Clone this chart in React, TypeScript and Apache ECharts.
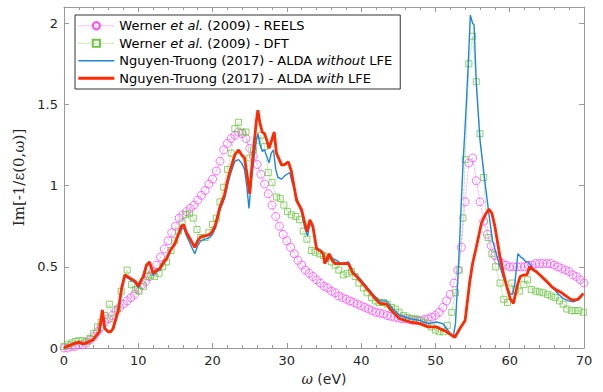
import React, { useEffect, useRef } from "react";
import * as echarts from "echarts";

// Werner et al. (2009) - REELS : [energy (eV), Im(-1/eps)]
const reels: number[][] = [
  [0, 0.0], [0.5, 0.0], [1, 0.01], [1.5, 0.01], [2, 0.02], [2.5, 0.02], [3, 0.03], [3.5, 0.05], [4, 0.07], [4.5, 0.1],
  [5, 0.13], [5.5, 0.16], [6, 0.18], [6.5, 0.2], [7, 0.23], [7.5, 0.25], [8, 0.27], [8.5, 0.29], [9, 0.31], [9.5, 0.33],
  [10, 0.36], [10.5, 0.39], [11, 0.41], [11.5, 0.44], [12, 0.47], [12.5, 0.51], [13, 0.56], [13.5, 0.61], [14, 0.66], [14.5, 0.71],
  [15, 0.75], [15.5, 0.8], [16, 0.82], [16.5, 0.84], [17, 0.86], [17.5, 0.88], [18, 0.91], [18.5, 0.94], [19, 0.97], [19.5, 1.01],
  [20, 1.04], [20.5, 1.09], [21, 1.15], [21.5, 1.22], [22, 1.26], [22.5, 1.29], [23, 1.31], [23.5, 1.33], [24, 1.32], [24.5, 1.29],
  [25, 1.23], [25.5, 1.18], [26, 1.13], [26.5, 1.07], [27, 1.01], [27.5, 0.95], [28, 0.88], [28.5, 0.81], [29, 0.75], [29.5, 0.7],
  [30, 0.66], [30.5, 0.62], [31, 0.58], [31.5, 0.54], [32, 0.51], [32.5, 0.48], [33, 0.46], [33.5, 0.44], [34, 0.42], [34.5, 0.4],
  [35, 0.38], [35.5, 0.37], [36, 0.35], [36.5, 0.34], [37, 0.32], [37.5, 0.31], [38, 0.3], [38.5, 0.29], [39, 0.28], [39.5, 0.27],
  [40, 0.26], [40.5, 0.25], [41, 0.24], [41.5, 0.23], [42, 0.22], [42.5, 0.215], [43, 0.21], [43.5, 0.2], [44, 0.195], [44.5, 0.19],
  [45, 0.185], [45.5, 0.18], [46, 0.18], [46.5, 0.175], [47, 0.17], [47.5, 0.17], [48, 0.17], [48.5, 0.175], [49, 0.18], [49.5, 0.19],
  [50, 0.2], [50.5, 0.22], [51, 0.25], [51.5, 0.29], [52, 0.33], [52.5, 0.4], [53, 0.48], [53.5, 0.62], [54, 0.9], [54.5, 1.14],
  [55, 1.17], [55.5, 1.03], [56, 0.9], [56.5, 0.78], [57, 0.7], [57.5, 0.63], [58, 0.57], [58.5, 0.54], [59, 0.52], [59.5, 0.51],
  [60, 0.5], [60.5, 0.5], [61, 0.5], [61.5, 0.5], [62, 0.5], [62.5, 0.51], [63, 0.51], [63.5, 0.52], [64, 0.52], [64.5, 0.52],
  [65, 0.52], [65.5, 0.52], [66, 0.51], [66.5, 0.5], [67, 0.49], [67.5, 0.48], [68, 0.47], [68.5, 0.45], [69, 0.44], [69.5, 0.42],
  [70, 0.4],
];

// Werner et al. (2009) - DFT
const dft: number[][] = [
  [0, 0.01], [0.5, 0.02], [1, 0.03], [1.5, 0.04], [2, 0.045], [2.5, 0.045], [3, 0.04], [3.5, 0.06], [4, 0.09], [4.5, 0.13],
  [5, 0.16], [5.5, 0.2], [6.1, 0.27], [6.6, 0.18], [7.2, 0.24], [7.7, 0.35], [8.5, 0.48], [9.1, 0.39], [9.6, 0.36], [10.1, 0.35],
  [10.7, 0.38], [11.2, 0.44], [11.7, 0.45], [12.2, 0.44], [12.8, 0.46], [13.3, 0.5], [13.8, 0.53], [14.4, 0.6], [14.9, 0.66], [15.4, 0.72],
  [15.9, 0.77], [16.4, 0.82], [16.9, 0.83], [17.4, 0.8], [17.9, 0.73], [18.4, 0.68], [19.0, 0.68], [19.5, 0.71], [20.0, 0.76], [20.5, 0.8],
  [21.0, 0.9], [21.5, 0.99], [22.0, 1.1], [22.5, 1.2], [23.0, 1.35], [23.5, 1.39], [24.0, 1.33], [24.5, 1.33], [25.0, 1.17], [25.5, 1.22],
  [26.0, 1.28], [26.5, 1.31], [27.0, 1.24], [27.5, 1.08], [28.0, 1.02], [28.6, 0.93], [29.1, 0.92], [29.6, 0.88], [30.1, 0.84], [30.6, 0.82],
  [31.2, 0.81], [31.7, 0.79], [32.2, 0.72], [32.7, 0.67], [33.3, 0.6], [33.8, 0.59], [34.4, 0.58], [34.9, 0.57], [35.4, 0.56], [36.0, 0.53],
  [36.5, 0.51], [37.0, 0.48], [37.6, 0.45], [38.1, 0.46], [38.7, 0.47], [39.2, 0.44], [39.7, 0.4], [40.3, 0.37], [40.8, 0.34], [41.4, 0.31],
  [41.9, 0.29], [42.4, 0.28], [43.0, 0.28], [43.5, 0.27], [44.1, 0.25], [44.6, 0.24], [45.1, 0.22], [45.7, 0.2], [46.2, 0.19], [46.8, 0.18],
  [47.3, 0.18], [47.8, 0.17], [48.4, 0.16], [48.9, 0.15], [49.5, 0.13], [50.0, 0.11], [50.5, 0.1], [51.1, 0.1], [51.6, 0.14], [52.2, 0.22],
  [52.7, 0.34], [53.2, 0.48], [53.7, 0.8], [54.0, 1.16], [54.5, 1.75], [55.0, 1.92], [55.5, 1.64], [56.0, 1.32], [56.5, 1.05], [57.1, 0.68],
  [57.6, 0.58], [58.1, 0.5], [58.7, 0.4], [59.2, 0.3], [59.7, 0.28], [60.3, 0.4], [60.8, 0.36], [61.3, 0.35], [61.9, 0.39], [62.4, 0.42],
  [62.9, 0.36], [63.5, 0.35], [64.0, 0.345], [64.5, 0.34], [65.1, 0.33], [65.6, 0.32], [66.1, 0.31], [66.7, 0.29], [67.2, 0.27], [67.7, 0.24],
  [68.3, 0.23], [68.8, 0.23], [69.3, 0.23], [69.9, 0.22],
];

// Nguyen-Truong (2017) - ALDA without LFE
const aldaWithout: number[][] = [
  [0, 0], [0.5, 0.01], [1, 0.02], [1.5, 0.03], [2, 0.03], [2.5, 0.025], [3, 0.035], [3.5, 0.045], [4, 0.05], [4.5, 0.08],
  [4.8, 0.1], [5.1, 0.21], [5.4, 0.12], [5.9, 0.1], [6.3, 0.1], [6.7, 0.12], [7.3, 0.22], [7.8, 0.36], [8.2, 0.44], [8.6, 0.43],
  [8.9, 0.42], [9.3, 0.41], [9.6, 0.4], [10.0, 0.37], [10.4, 0.41], [10.9, 0.49], [11.2, 0.51], [11.5, 0.52], [11.8, 0.48], [12.0, 0.45],
  [12.5, 0.47], [12.9, 0.48], [13.4, 0.52], [13.8, 0.54], [14.3, 0.6], [14.9, 0.63], [15.4, 0.69], [15.8, 0.73], [16.1, 0.74], [16.5, 0.69],
  [17.0, 0.64], [17.6, 0.58], [18.0, 0.63], [18.4, 0.66], [19.0, 0.67], [19.6, 0.68], [20.0, 0.7], [20.4, 0.74], [21.0, 0.85], [21.6, 0.92],
  [22.0, 1.0], [22.4, 1.07], [23.0, 1.15], [23.5, 1.16], [23.9, 1.14], [24.3, 1.1], [24.6, 1.0], [24.9, 0.86], [25.2, 1.02], [25.6, 1.18],
  [25.9, 1.28], [26.1, 1.32], [26.4, 1.25], [26.7, 1.21], [27.0, 1.22], [27.3, 1.18], [27.6, 1.14], [27.9, 1.2], [28.2, 1.22], [28.5, 1.1],
  [28.8, 1.05], [29.3, 1.04], [29.7, 1.06], [30.0, 1.07], [30.4, 1.08], [30.7, 1.02], [31.0, 0.98], [31.5, 0.9], [32.0, 0.83], [32.4, 0.74],
  [32.8, 0.69], [33.1, 0.77], [33.5, 0.74], [34.0, 0.62], [34.4, 0.6], [34.8, 0.59], [35.1, 0.55], [35.4, 0.53], [35.8, 0.57], [36.2, 0.55],
  [36.7, 0.54], [37.3, 0.52], [38.3, 0.53], [38.9, 0.47], [39.8, 0.43], [40.7, 0.38], [41.6, 0.33], [42.5, 0.29], [43.4, 0.29], [44.3, 0.24],
  [45.2, 0.2], [46.6, 0.18], [47.9, 0.17], [49.0, 0.15], [50.1, 0.16], [51.0, 0.15], [51.5, 0.12], [52.0, 0.09], [52.4, 0.07], [52.7, 0.15],
  [53.1, 0.5], [53.7, 1.12], [54.1, 1.45], [54.4, 1.73], [54.7, 2.05], [55.0, 2.0], [55.2, 1.99], [55.5, 1.63], [56.0, 1.28], [56.7, 1.01],
  [57.3, 0.79], [57.7, 0.66], [58.2, 0.58], [58.7, 0.5], [59.1, 0.44], [59.6, 0.38], [60.0, 0.337], [60.4, 0.33], [60.7, 0.4], [61.1, 0.58],
  [61.5, 0.56], [61.8, 0.55], [62.2, 0.53], [62.5, 0.53], [63.3, 0.48], [64.0, 0.45], [64.6, 0.42], [65.3, 0.39], [66.0, 0.36], [66.6, 0.33],
  [67.2, 0.306], [67.9, 0.29], [68.6, 0.285], [69.3, 0.3], [69.9, 0.33],
];

// Nguyen-Truong (2017) - ALDA with LFE
const aldaWith: number[][] = [
  [0, 0], [0.4, 0.01], [1, 0.02], [1.5, 0.03], [2, 0.035], [2.6, 0.025], [3.2, 0.035], [3.9, 0.05], [4.4, 0.08], [4.75, 0.1],
  [5.16, 0.234], [5.5, 0.12], [5.96, 0.1], [6.3, 0.1], [6.6, 0.12], [7.3, 0.23], [7.76, 0.37], [8.2, 0.45], [8.9, 0.43], [9.6, 0.41],
  [10.0, 0.38], [10.4, 0.42], [10.7, 0.44], [11.1, 0.51], [11.5, 0.53], [11.8, 0.49], [12.0, 0.46], [12.5, 0.48], [12.9, 0.49], [13.4, 0.53],
  [13.8, 0.55], [14.3, 0.6], [14.9, 0.64], [15.4, 0.7], [15.8, 0.75], [16.1, 0.76], [16.5, 0.71],
  [17.0, 0.67], [17.6, 0.62], [18.0, 0.66], [18.4, 0.685], [19.0, 0.69], [19.6, 0.7], [20.0, 0.72], [20.4, 0.76], [21.0, 0.87], [21.6, 0.94],
  [22.0, 1.03], [22.4, 1.1], [23.0, 1.19], [23.5, 1.22], [23.9, 1.19], [24.3, 1.17], [24.6, 1.08], [25.0, 0.95], [25.3, 1.12], [25.6, 1.26],
  [25.9, 1.4], [26.1, 1.465], [26.4, 1.38], [26.7, 1.33], [27.0, 1.32], [27.3, 1.28], [27.6, 1.23], [27.9, 1.27], [28.3, 1.33], [28.6, 1.2],
  [29.3, 1.126], [29.7, 1.13], [30.2, 1.146], [30.6, 1.09], [31.3, 0.91], [32.0, 0.85], [32.7, 0.716],
  [33.1, 0.79], [33.5, 0.75], [34.0, 0.61], [34.5, 0.6], [34.9, 0.58], [35.1, 0.52], [35.7, 0.58], [36.1, 0.54],
  [36.5, 0.52], [37.6, 0.52], [38.3, 0.52], [38.9, 0.46], [39.4, 0.44], [40.7, 0.37], [41.8, 0.31], [42.5, 0.275], [43.4, 0.27], [44.3, 0.22],
  [45.2, 0.18], [46.6, 0.16], [47.9, 0.15], [49.0, 0.13], [50.1, 0.13], [51.5, 0.1], [52.6, 0.065], [53.3, 0.12], [54.0, 0.17], [54.6, 0.4],
  [55.0, 0.52], [55.5, 0.62], [56.2, 0.77], [56.7, 0.82], [57.2, 0.855], [57.6, 0.83], [58.0, 0.75], [58.7, 0.56], [59.2, 0.45], [59.6, 0.38],
  [60.1, 0.3], [60.5, 0.275], [61.0, 0.38], [61.4, 0.44], [61.9, 0.45], [62.3, 0.45], [62.7, 0.5], [63.2, 0.48], [63.6, 0.47], [64.3, 0.44],
  [65.0, 0.41], [65.6, 0.38], [66.3, 0.357], [67.0, 0.34], [67.7, 0.316], [68.2, 0.3], [68.6, 0.295], [69.2, 0.3], [69.6, 0.32], [69.9, 0.336],
];

const seriesNames = ["REELS", "DFT", "ALDA without LFE", "ALDA with LFE"];
const legendLabels: Record<string, string> = {
  "REELS": "Werner {i|et al.} (2009) - REELS",
  "DFT": "Werner {i|et al.} (2009) - DFT",
  "ALDA without LFE": "Nguyen-Truong (2017) - ALDA {i|without} LFE",
  "ALDA with LFE": "Nguyen-Truong (2017) - ALDA {i|with} LFE",
};
const xTicks = { min: 0, max: 70, interval: 10 };
const yTicks = { min: 0, max: 2.1, interval: 0.5 };

const AXIS = "#9a9a9a";
const LABEL = "#262626";
const SANS = "DejaVu Sans";
const PINK = "#ff4dff";
const GREEN = "#6cc644";
const BLUE = "#1f86e0";
const RED = "#ff2a00";

export default function App() {
  const ref = useRef<HTMLDivElement>(null);
  useEffect(() => {
    if (!ref.current) return;
    const chart = echarts.init(ref.current, null, { renderer: "svg" });
    const axisCommon = {
      axisLine: { show: true, onZero: false, lineStyle: { color: AXIS, width: 1 } },
      axisTick: { show: true, inside: true, length: 5, lineStyle: { color: AXIS } },
      splitLine: { show: false },
    };
    chart.setOption({
      animation: false,
      backgroundColor: "#fff",
      grid: { left: 64, right: 19, top: 7, bottom: 44 },
      legend: {
        data: [
          { name: seriesNames[0], lineStyle: { width: 0.7 } },
          { name: seriesNames[1], lineStyle: { width: 0.7 } },
          { name: seriesNames[2], icon: "path://M0,0H36V1.4H0Z" },
          { name: seriesNames[3], icon: "path://M0,0H36V2.8H0Z" },
        ],
        orient: "vertical",
        left: 75,
        top: 15,
        backgroundColor: "#fff",
        borderColor: "#333",
        borderWidth: 1,
        borderRadius: 0,
        padding: [3, 8, 3, 3],
        itemGap: 2,
        itemWidth: 36,
        itemHeight: 9,
        selectedMode: false,
        formatter: (name: string) => legendLabels[name],
        textStyle: {
          fontFamily: SANS,
          fontSize: 13,
          color: "#000",
          lineHeight: 15.5,
          rich: { i: { fontStyle: "italic", fontFamily: SANS, fontSize: 13, color: "#000" } },
        },
      },
      xAxis: [
        {
          type: "value",
          position: "bottom",
          ...xTicks,
          ...axisCommon,
          minorTick: { show: true, splitNumber: 5, length: 3, lineStyle: { color: AXIS } },
          axisLabel: { color: LABEL, fontSize: 13, fontFamily: SANS, margin: 6 },
          name: "{w|ω} (eV)",
          nameLocation: "middle",
          nameGap: 24,
          nameTextStyle: {
            color: LABEL,
            fontSize: 14,
            fontFamily: SANS,
            rich: { w: { fontStyle: "italic", fontFamily: "DejaVu Serif", fontSize: 14, color: LABEL } },
          },
        },
        {
          type: "value",
          position: "top",
          ...xTicks,
          ...axisCommon,
          minorTick: { show: true, splitNumber: 5, length: 3, lineStyle: { color: AXIS } },
          axisLabel: { show: false },
        },
      ],
      yAxis: [
        {
          type: "value",
          position: "left",
          ...yTicks,
          ...axisCommon,
          axisLabel: { color: LABEL, fontSize: 13, fontFamily: SANS, margin: 6, showMaxLabel: false },
          name: "Im[-1/ε(0,ω)]",
          nameLocation: "middle",
          nameGap: 36,
          nameTextStyle: { color: LABEL, fontSize: 15, fontFamily: "DejaVu Serif" },
        },
        {
          type: "value",
          position: "right",
          ...yTicks,
          ...axisCommon,
          axisLabel: { show: false },
        },
      ],
      series: [
        {
          name: "REELS",
          type: "line",
          data: reels,
          symbol: "circle",
          symbolSize: 8,
          silent: true,
          itemStyle: { color: "rgba(255,255,255,0)", borderColor: PINK, borderWidth: 0.8 },
          lineStyle: { color: PINK, width: 0.7, type: "dotted" },
          z: 2,
        },
        {
          name: "DFT",
          type: "line",
          data: dft,
          symbol: "rect",
          symbolSize: 6,
          silent: true,
          itemStyle: { color: "rgba(255,255,255,0)", borderColor: GREEN, borderWidth: 0.8 },
          lineStyle: { color: GREEN, width: 0.7, type: "dotted" },
          z: 3,
        },
        {
          name: "ALDA without LFE",
          type: "line",
          data: aldaWithout,
          showSymbol: false,
          symbol: "none",
          silent: true,
          itemStyle: { color: BLUE },
          lineStyle: { color: BLUE, width: 1.4 },
          z: 4,
        },
        {
          name: "ALDA with LFE",
          type: "line",
          data: aldaWith,
          showSymbol: false,
          symbol: "none",
          silent: true,
          itemStyle: { color: RED },
          lineStyle: { color: RED, width: 2.8 },
          z: 5,
        },
      ],
    });
    return () => chart.dispose();
  }, []);
  return <div ref={ref} style={{ width: 603, height: 392, position: "absolute", left: 0, top: 0 }} />;
}
